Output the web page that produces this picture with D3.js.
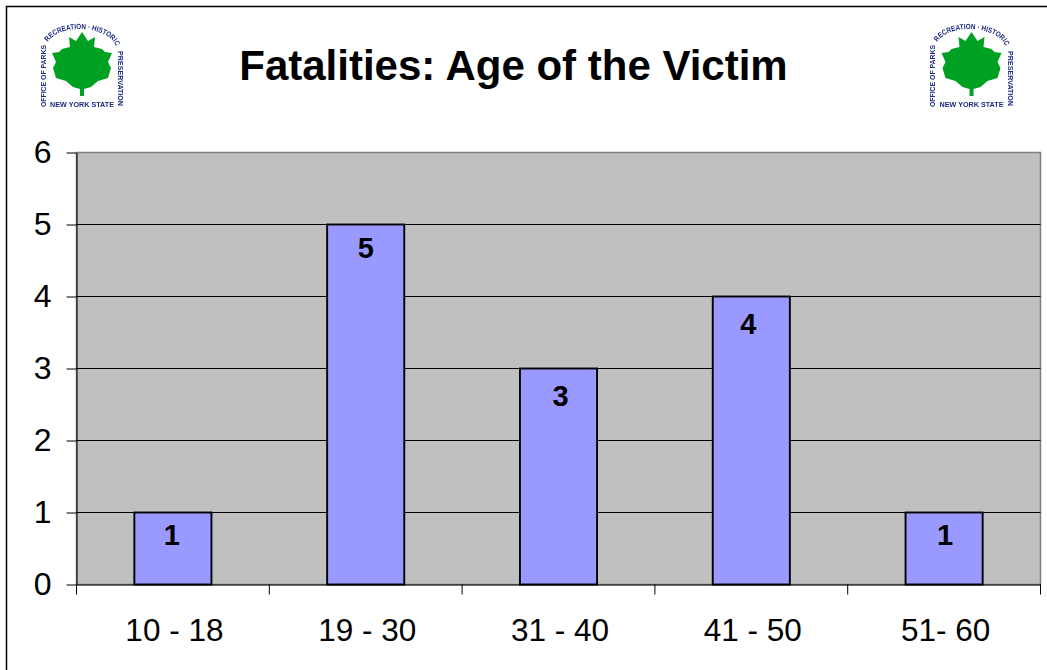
<!DOCTYPE html>
<html><head><meta charset="utf-8">
<script src="https://cdn.jsdelivr.net/npm/d3@7"></script>
<style>html,body{margin:0;padding:0;background:#fff}svg{display:block}text{font-family:"Liberation Sans",Arial,sans-serif;fill:#000}</style>
</head><body><svg id="c" width="1047" height="670"></svg>
<script>
const chartTitle = "Fatalities: Age of the Victim";
const categories = ["10 - 18","19 - 30","31 - 40","41 - 50","51- 60"];
const values = [1,5,3,4,1];
const yTicks = [0,1,2,3,4,5,6];
const logoCentres = [82,971.5];

const svg = d3.select("#c");
const L=76.5,R=1040.5,T=152.5,B=584.5;
const x = d3.scaleBand().domain(categories).range([L,R]).paddingInner(0).paddingOuter(0);
const y = d3.scaleLinear().domain([0,6]).range([B,T]);

svg.append("path").attr("d","M6.5,670V6.5H1047").attr("fill","none").attr("stroke","#000").attr("stroke-width",1.5);

// plot
svg.append("rect").attr("x",L).attr("y",T).attr("width",R-L).attr("height",B-T).attr("fill","#c0c0c0").attr("stroke","#808080").attr("stroke-width",1.5);
svg.append("g").selectAll("line").data(yTicks.filter(d=>d>0&&d<6)).join("line")
  .attr("x1",L).attr("x2",R).attr("y1",d=>y(d)).attr("y2",d=>y(d)).attr("stroke","#000").attr("stroke-width",1);

// bars
const bw = x.bandwidth()*0.4;
svg.append("g").selectAll("rect").data(values).join("rect")
  .attr("x",(d,i)=>x(categories[i])+(x.bandwidth()-bw)/2)
  .attr("width",bw).attr("y",d=>y(d)).attr("height",d=>y(0)-y(d))
  .attr("fill","#9999ff").attr("stroke","#000").attr("stroke-width",1.9);

// value labels, with the small hand offsets the reference shows
const labelDx = [0,1,3,-2,2];
const labelDy = [-2,-1,3,3,-2];
svg.append("g").selectAll("text").data(values).join("text")
  .attr("x",(d,i)=>x(categories[i])+x.bandwidth()/2-1+labelDx[i])
  .attr("y",(d,i)=>y(d)+34+labelDy[i]).attr("text-anchor","middle")
  .attr("font-size",29).attr("font-weight","bold").text(d=>d);

// axes
const yAxis = d3.axisLeft(y).tickValues(yTicks).tickSize(10).tickSizeOuter(0).tickPadding(15).tickFormat(d3.format("d"));
const gy = svg.append("g").attr("transform",`translate(${L},0)`).call(yAxis);
gy.select(".domain").attr("stroke","#000").attr("stroke-width",1);
gy.selectAll("line").attr("stroke","#000");
gy.selectAll("text").attr("font-size",32).attr("fill","#000").style("font-family",'"Liberation Sans",Arial,sans-serif');

const xAxis = d3.axisBottom(x).tickSize(0).tickPadding(34);
const gx = svg.append("g").attr("transform",`translate(0,${B})`).call(xAxis);
gx.select(".domain").attr("stroke","#000").attr("stroke-width",1.2);
gx.selectAll("text").attr("font-size",31.5).attr("fill","#000").attr("dx",1.5).style("font-family",'"Liberation Sans",Arial,sans-serif');
const boundaries = categories.map(c=>x(c)).concat([R]);
svg.append("g").selectAll("line").data(boundaries).join("line")
  .attr("x1",d=>d).attr("x2",d=>d).attr("y1",B).attr("y2",B+10).attr("stroke","#000");

// title
svg.append("text").attr("x",513.5).attr("y",80).attr("text-anchor","middle")
  .attr("font-size",42).attr("font-weight","bold").text(chartTitle);

// logos
const half = [[0,32],[6,41],[13,37],[12,47],[20,49],[23,52],[30,53],[26,62],[29,68],[26,78],[16,81],[9,87],[2,89],[2,96]];
const pts = half.concat(half.slice().reverse().map(p=>[-p[0],p[1]]));
const defs = svg.append("defs");
defs.append("filter").attr("id","soft").append("feGaussianBlur").attr("stdDeviation",0.35);
defs.append("path").attr("id","arcL").attr("d","M-36,107V44");
defs.append("path").attr("id","arcT").attr("d","M-34,42C-24,24 24,24 34,46");
defs.append("path").attr("id","arcR").attr("d","M36,51V107");
const arcTexts = [["#arcL","OFFICE OF PARKS",62],["#arcT","RECREATION · HISTORIC",78],["#arcR","PRESERVATION",55]];
logoCentres.forEach(cx=>{
  const g = svg.append("g").attr("transform",`translate(${cx},0)`).attr("filter","url(#soft)");
  g.append("path").attr("d",d3.line()(pts)+"Z").attr("fill","#00a020");
  arcTexts.forEach(([href,label,len])=>{
    g.append("text").attr("font-size",7.4).attr("font-weight","bold").style("fill","#1c2a80")
      .append("textPath").attr("href",href).attr("textLength",len).attr("lengthAdjust","spacingAndGlyphs").text(label);
  });
  g.append("text").attr("y",107).attr("text-anchor","middle").attr("font-size",7.2).attr("font-weight","bold").style("fill","#1c2a80").text("NEW YORK STATE");
});
</script></body></html>
